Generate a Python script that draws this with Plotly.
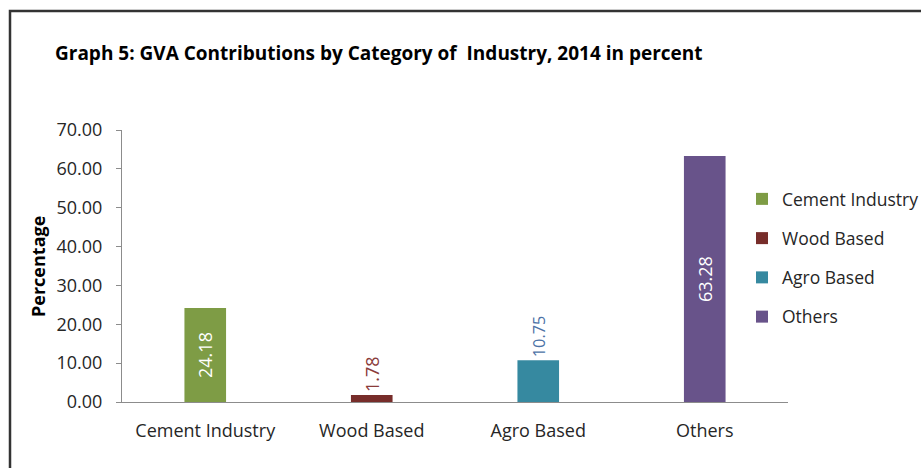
import plotly.graph_objects as go

# Gross value added shares by industry category, 2014 (%)
categories = ["Cement Industry", "Wood Based", "Agro Based", "Others"]
values = [24.18, 1.78, 10.75, 63.28]
bar_colors = ["#7E9C45", "#772D2A", "#3689A0", "#68538A"]
label_colors = ["#FFFFFF", "#8A3B3A", "#4C72A6", "#FFFFFF"]
label_positions = ["inside", "outside", "outside", "inside"]
y_ticks = [0, 10, 20, 30, 40, 50, 60, 70]

FONT = "Open Sans"
W, H = 921, 468
L, R, T, B = 122, 133, 130, 66
pw, ph = W - L - R, H - T - B


def px_x(px):
    return (px - L) / pw


def px_y(py):
    return (H - B - py) / ph


fig = go.Figure()
for cat, val, col, lcol, pos in zip(categories, values, bar_colors, label_colors, label_positions):
    fig.add_trace(go.Bar(
        x=[cat], y=[val], name=cat, legendgroup=cat,
        marker=dict(color=col, line=dict(width=0)),
        width=0.25,
        text=[f"{val:.2f}"], textposition=pos, textangle=-90,
        insidetextanchor="middle",
        textfont=dict(family=FONT, size=18, color=lcol),
        outsidetextfont=dict(family=FONT, size=18, color=lcol),
        insidetextfont=dict(family=FONT, size=18, color=lcol),
        cliponaxis=False,
        hoverinfo="skip",
    ))

fig.update_layout(
    width=W, height=H,
    margin=dict(l=L, r=R, t=T, b=B, pad=0, autoexpand=False),
    paper_bgcolor="white", plot_bgcolor="white",
    barmode="overlay",
    showlegend=True,
    legend=dict(
        x=px_x(742), y=px_y(181), xanchor="left", yanchor="top",
        font=dict(family=FONT, size=17.5, color="#262626"),
        traceorder="grouped", tracegroupgap=13.5,
        itemwidth=30, bgcolor="rgba(0,0,0,0)",
    ),
    font=dict(family=FONT, color="#262626"),
)

fig.update_xaxes(
    categoryorder="array", categoryarray=categories,
    showline=True, linecolor="#8C8C8C", linewidth=1,
    ticks="", showgrid=False, zeroline=False,
    tickfont=dict(family=FONT, size=18, color="#262626"),
    ticklabelstandoff=12,
)
fig.update_yaxes(
    range=[0, 70], tickvals=y_ticks, tickformat=".2f",
    showline=True, linecolor="#8C8C8C", linewidth=1,
    ticks="outside", ticklen=5, tickcolor="#8C8C8C",
    showgrid=False, zeroline=False,
    tickfont=dict(family=FONT, size=18, color="#262626"),
    ticklabelstandoff=10,
)

# Chart title
fig.add_annotation(
    text="<b>Graph 5: GVA Contributions by Category of  Industry, 2014 in percent</b>",
    xref="paper", yref="paper", x=px_x(53), y=px_y(53),
    xanchor="left", yanchor="middle", showarrow=False,
    font=dict(family=FONT, size=19, color="#000000"),
)
# Value axis title
fig.add_annotation(
    text="<b>Percentage</b>",
    xref="paper", yref="paper", x=px_x(38), y=px_y(267),
    xanchor="center", yanchor="middle", textangle=-90, showarrow=False,
    font=dict(family=FONT, size=18, color="#000000"),
)
# Outer frame of the chart area (right and bottom edges run past the page)
fig.add_shape(
    type="rect", xref="paper", yref="paper",
    x0=px_x(10), x1=px_x(1400), y0=px_y(900), y1=px_y(11),
    line=dict(color="#333333", width=2.5), fillcolor="rgba(0,0,0,0)",
    layer="above",
)

fig.write_html("out.html")
